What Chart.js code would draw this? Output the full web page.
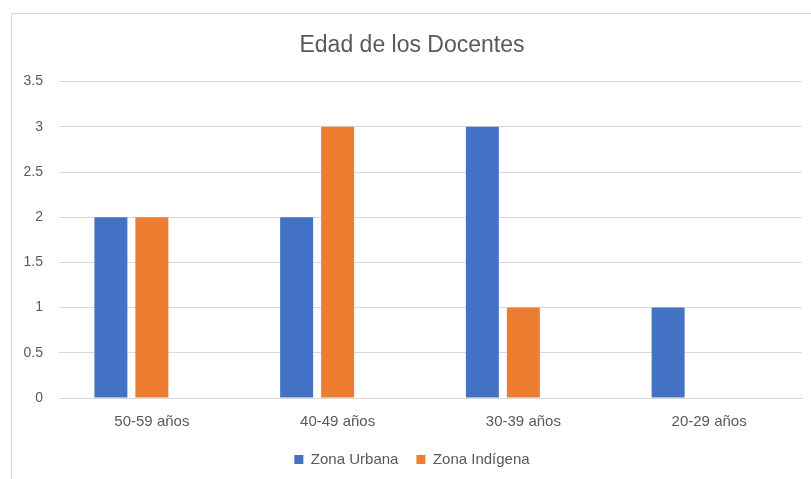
<!DOCTYPE html>
<html>
<head>
<meta charset="utf-8">
<script src="https://cdn.jsdelivr.net/npm/chart.js@4.4.1/dist/chart.umd.min.js"></script>
<style>
  html, body { margin: 0; padding: 0; background: #ffffff; }
  #frame { position: absolute; left: 11px; top: 13px; width: 820px; height: 480px; border: 1px solid #d9d9d9; box-sizing: border-box; }
  #wrap { position: absolute; left: 0; top: 0; width: 811px; height: 479px; }
</style>
</head>
<body>
<div id="frame"></div>
<div id="wrap"><canvas id="c" width="811" height="479"></canvas></div>
<script>
const categorias = ['50-59 años', '40-49 años', '30-39 años', '20-29 años'];
const zonaUrbana = [2, 2, 3, 1];
const zonaIndigena = [2, 3, 1, 0];
const serieVacia = [0, 0, 0, 0];
const yTicks = [0, 0.5, 1, 1.5, 2, 2.5, 3, 3.5];

const FONT = "'Liberation Sans', Arial, sans-serif";
const GRAY = '#595959';

new Chart(document.getElementById('c'), {
  type: 'bar',
  data: {
    labels: categorias,
    datasets: [
      { label: 'Zona Urbana', data: zonaUrbana, backgroundColor: '#4472C4', borderWidth: 0 },
      { label: 'Zona Indígena', data: zonaIndigena, backgroundColor: '#ED7D31', borderWidth: 0 },
      { label: '', data: serieVacia, backgroundColor: 'rgba(0,0,0,0)', borderWidth: 0 }
    ]
  },
  options: {
    responsive: false,
    animation: false,
    datasets: { bar: { categoryPercentage: 0.662, barPercentage: 0.805 } },
    layout: { padding: { left: 22, right: 9, top: 0, bottom: 2 } },
    plugins: {
      tooltip: { enabled: false },
      title: {
        display: true,
        text: 'Edad de los Docentes',
        color: GRAY,
        font: { family: FONT, size: 23, weight: 'normal' },
        padding: { top: 32, bottom: 22 }
      },
      legend: {
        position: 'bottom',
        labels: {
          color: GRAY,
          font: { family: FONT, size: 15 },
          boxWidth: 9,
          boxHeight: 9,
          padding: 18,
          filter: (item) => item.text !== ''
        }
      }
    },
    scales: {
      x: {
        afterFit: (s) => { s.height = 36; },
        grid: { display: false, drawTicks: false },
        border: { display: true, color: '#d9d9d9', width: 1 },
        ticks: { color: GRAY, font: { family: FONT, size: 15 }, padding: 15, maxRotation: 0 }
      },
      y: {
        min: 0,
        max: 3.5,
        afterFit: (s) => { s.width = 37; },
        afterBuildTicks: (s) => { s.ticks = yTicks.map(v => ({ value: v })); },
        grid: { color: '#d9d9d9', drawTicks: false },
        border: { display: false },
        ticks: { color: GRAY, font: { family: FONT, size: 14 }, padding: 16, callback: (v) => String(v) }
      }
    }
  }
});
</script>
</body>
</html>
